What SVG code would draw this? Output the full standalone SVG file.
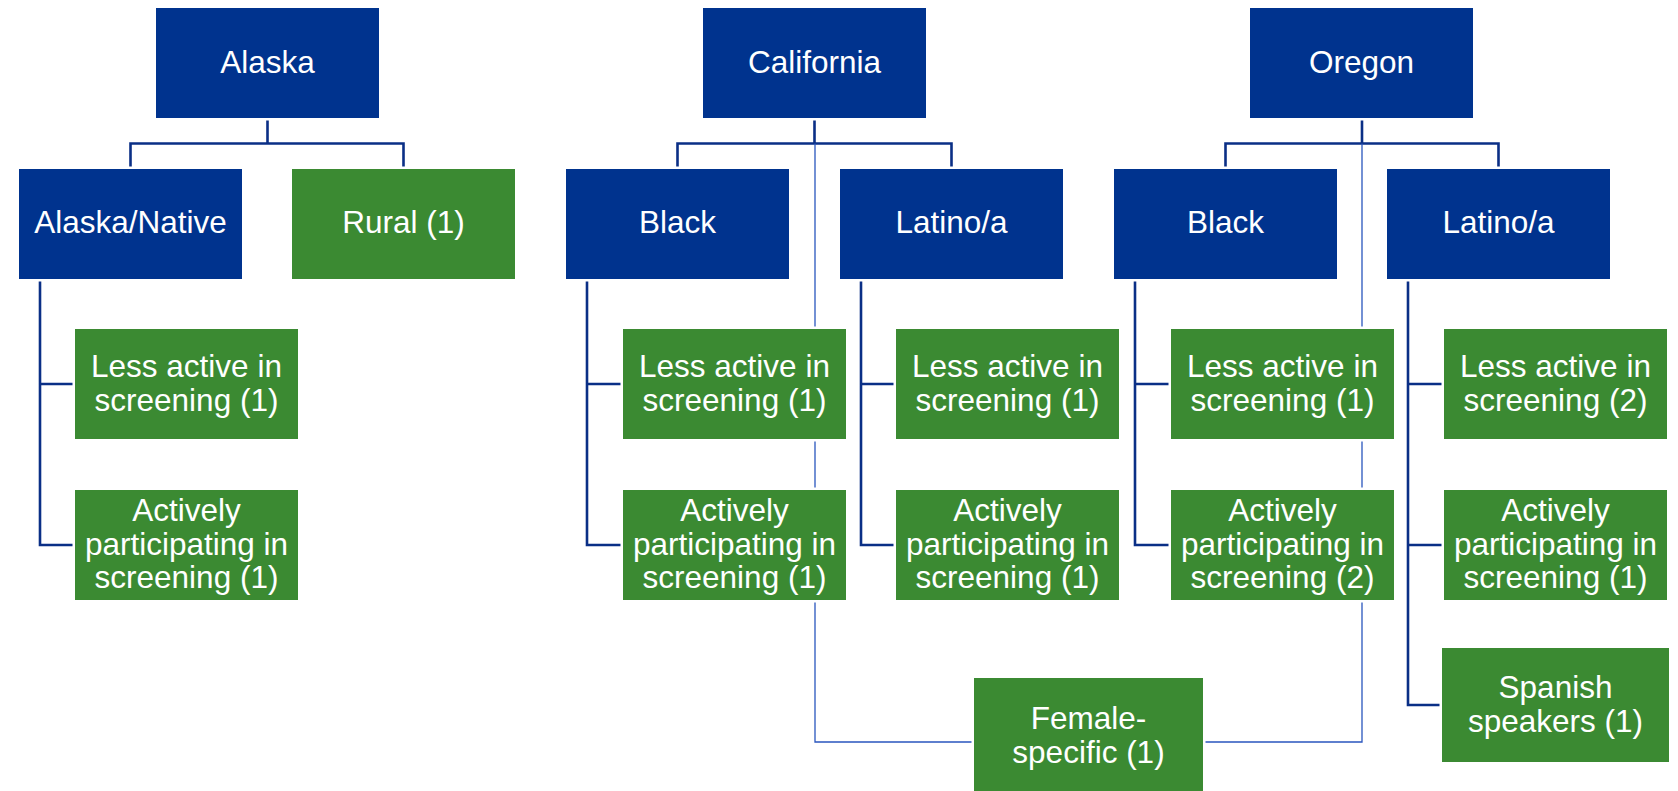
<svg xmlns="http://www.w3.org/2000/svg" width="1678" height="791" viewBox="0 0 1678 791">
  <style>
    .box { stroke: #ffffff; stroke-width: 5; paint-order: stroke; }
    .blue { fill: #00338E; }
    .green { fill: #3B8A32; }
    .lbl { font-family: "Liberation Sans", Arial, sans-serif; font-size: 31.5px; fill: #ffffff; text-anchor: middle; }
    .thick { fill: none; stroke: #0A2F86; stroke-width: 2.6; }
    .thin { fill: none; stroke: #2A56BE; stroke-width: 1.3; }
  </style>
  <rect x="0" y="0" width="1678" height="791" fill="#ffffff"/>

  <!-- connectors (drawn first so the box halos cut them) -->
  <g id="connectors">
    <!-- Alaska -->
    <path class="thick" d="M267.5 118 V143.5 M130.5 169 V143.5 H403.5 V169"/>
    <path class="thick" d="M40 279 V545 H76 M40 384 H76"/>
    <!-- California -->
    <path class="thick" d="M814.5 118 V143.5 M677.5 169 V143.5 H951.5 V169"/>
    <path class="thick" d="M587 279 V545 H624 M587 384 H624"/>
    <path class="thick" d="M861 279 V545 H897 M861 384 H897"/>
    <!-- Oregon -->
    <path class="thick" d="M1362 118 V143.5 M1225.5 169 V143.5 H1498.5 V169"/>
    <path class="thick" d="M1135 279 V545 H1172 M1135 384 H1172"/>
    <path class="thick" d="M1408 279 V705 H1443 M1408 384 H1445 M1408 545 H1445"/>
    <!-- shared female-specific links -->
    <path class="thin" d="M815 143.5 V742 H975"/>
    <path class="thin" d="M1362 143.5 V742 H1202"/>
  </g>

  <!-- top level -->
  <g id="alaska">
    <rect class="box blue" x="156" y="8" width="223" height="110"/>
    <text class="lbl" x="267.5" y="73">Alaska</text>
  </g>
  <g id="california">
    <rect class="box blue" x="703" y="8" width="223" height="110"/>
    <text class="lbl" x="814.5" y="73">California</text>
  </g>
  <g id="oregon">
    <rect class="box blue" x="1250" y="8" width="223" height="110"/>
    <text class="lbl" x="1361.5" y="73">Oregon</text>
  </g>

  <!-- second level -->
  <g id="ak-native">
    <rect class="box blue" x="19" y="169" width="223" height="110"/>
    <text class="lbl" x="130.5" y="233">Alaska/Native</text>
  </g>
  <g id="ak-rural">
    <rect class="box green" x="292" y="169" width="223" height="110"/>
    <text class="lbl" x="403.5" y="233">Rural (1)</text>
  </g>
  <g id="ca-black">
    <rect class="box blue" x="566" y="169" width="223" height="110"/>
    <text class="lbl" x="677.5" y="233">Black</text>
  </g>
  <g id="ca-latino">
    <rect class="box blue" x="840" y="169" width="223" height="110"/>
    <text class="lbl" x="951.5" y="233">Latino/a</text>
  </g>
  <g id="or-black">
    <rect class="box blue" x="1114" y="169" width="223" height="110"/>
    <text class="lbl" x="1225.5" y="233">Black</text>
  </g>
  <g id="or-latino">
    <rect class="box blue" x="1387" y="169" width="223" height="110"/>
    <text class="lbl" x="1498.5" y="233">Latino/a</text>
  </g>

  <!-- Alaska/Native subgroups -->
  <g id="ak-native-less">
    <rect class="box green" x="75" y="329" width="223" height="110"/>
    <text class="lbl" x="186.5" y="377"><tspan x="186.5">Less active in</tspan><tspan x="186.5" dy="33.5">screening (1)</tspan></text>
  </g>
  <g id="ak-native-active">
    <rect class="box green" x="75" y="490" width="223" height="110"/>
    <text class="lbl" x="186.5" y="521"><tspan x="186.5">Actively</tspan><tspan x="186.5" dy="33.5">participating in</tspan><tspan x="186.5" dy="33.5">screening (1)</tspan></text>
  </g>

  <!-- California Black subgroups -->
  <g id="ca-black-less">
    <rect class="box green" x="623" y="329" width="223" height="110"/>
    <text class="lbl" x="734.5" y="377"><tspan x="734.5">Less active in</tspan><tspan x="734.5" dy="33.5">screening (1)</tspan></text>
  </g>
  <g id="ca-black-active">
    <rect class="box green" x="623" y="490" width="223" height="110"/>
    <text class="lbl" x="734.5" y="521"><tspan x="734.5">Actively</tspan><tspan x="734.5" dy="33.5">participating in</tspan><tspan x="734.5" dy="33.5">screening (1)</tspan></text>
  </g>

  <!-- California Latino/a subgroups -->
  <g id="ca-latino-less">
    <rect class="box green" x="896" y="329" width="223" height="110"/>
    <text class="lbl" x="1007.5" y="377"><tspan x="1007.5">Less active in</tspan><tspan x="1007.5" dy="33.5">screening (1)</tspan></text>
  </g>
  <g id="ca-latino-active">
    <rect class="box green" x="896" y="490" width="223" height="110"/>
    <text class="lbl" x="1007.5" y="521"><tspan x="1007.5">Actively</tspan><tspan x="1007.5" dy="33.5">participating in</tspan><tspan x="1007.5" dy="33.5">screening (1)</tspan></text>
  </g>

  <!-- Oregon Black subgroups -->
  <g id="or-black-less">
    <rect class="box green" x="1171" y="329" width="223" height="110"/>
    <text class="lbl" x="1282.5" y="377"><tspan x="1282.5">Less active in</tspan><tspan x="1282.5" dy="33.5">screening (1)</tspan></text>
  </g>
  <g id="or-black-active">
    <rect class="box green" x="1171" y="490" width="223" height="110"/>
    <text class="lbl" x="1282.5" y="521"><tspan x="1282.5">Actively</tspan><tspan x="1282.5" dy="33.5">participating in</tspan><tspan x="1282.5" dy="33.5">screening (2)</tspan></text>
  </g>

  <!-- Oregon Latino/a subgroups -->
  <g id="or-latino-less">
    <rect class="box green" x="1444" y="329" width="223" height="110"/>
    <text class="lbl" x="1555.5" y="377"><tspan x="1555.5">Less active in</tspan><tspan x="1555.5" dy="33.5">screening (2)</tspan></text>
  </g>
  <g id="or-latino-active">
    <rect class="box green" x="1444" y="490" width="223" height="110"/>
    <text class="lbl" x="1555.5" y="521"><tspan x="1555.5">Actively</tspan><tspan x="1555.5" dy="33.5">participating in</tspan><tspan x="1555.5" dy="33.5">screening (1)</tspan></text>
  </g>
  <g id="or-latino-spanish">
    <rect class="box green" x="1442" y="648" width="227" height="114"/>
    <text class="lbl" x="1555.5" y="698"><tspan x="1555.5">Spanish</tspan><tspan x="1555.5" dy="33.5">speakers (1)</tspan></text>
  </g>

  <!-- shared subgroup -->
  <g id="female-specific">
    <rect class="box green" x="974" y="678" width="229" height="116"/>
    <text class="lbl" x="1088.5" y="729"><tspan x="1088.5">Female-</tspan><tspan x="1088.5" dy="33.5">specific (1)</tspan></text>
  </g>
</svg>
